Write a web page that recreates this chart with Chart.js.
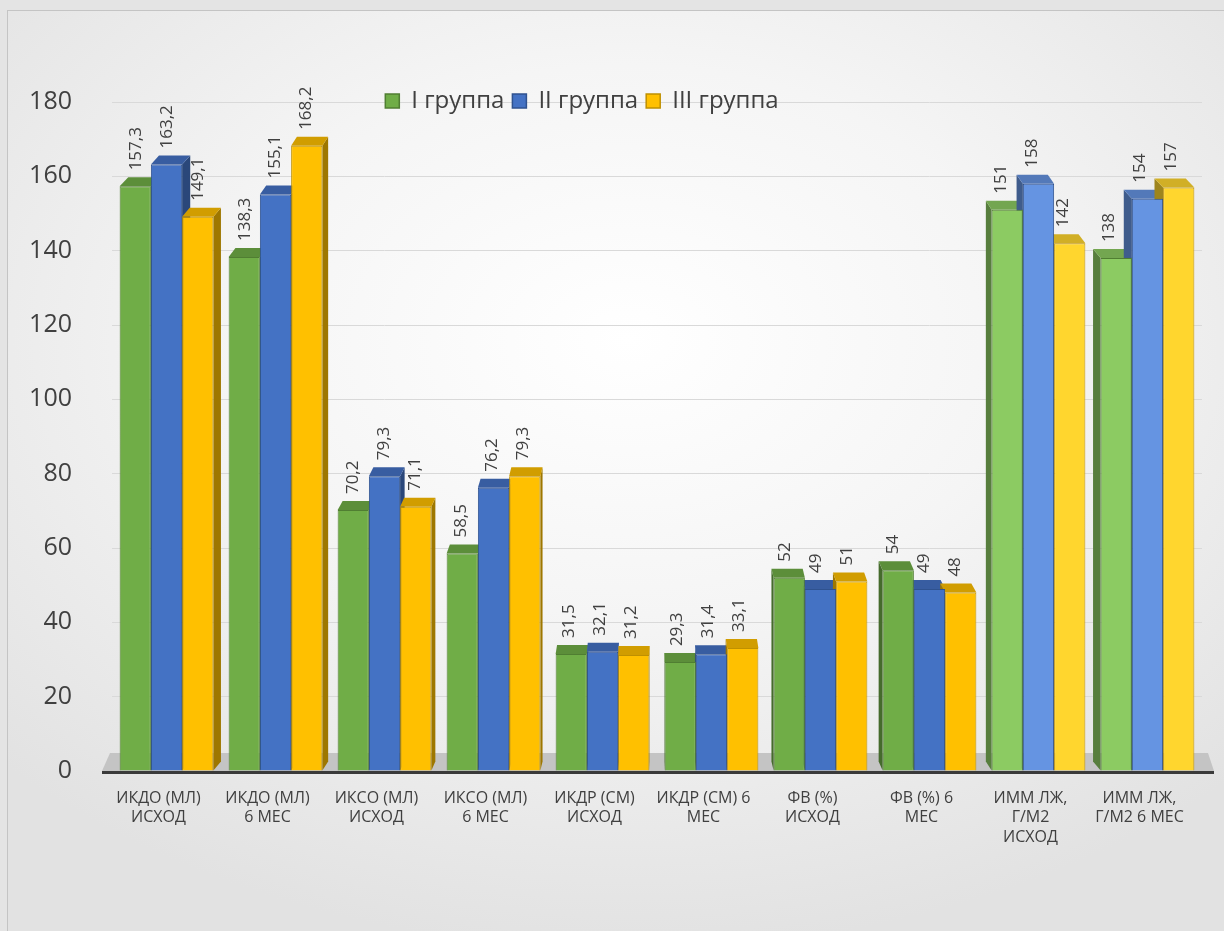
<!DOCTYPE html>
<html lang="ru">
<head>
<meta charset="utf-8">
<title>Группы</title>
<script src="https://cdn.jsdelivr.net/npm/chart.js@4.4.1/dist/chart.umd.min.js"></script>
<style>
  html, body { margin: 0; padding: 0; background: #e4e4e4; }
  #wrap { position: relative; width: 1224px; height: 931px; overflow: hidden; }
  #fundo {
    position: absolute; left: 7px; top: 10px; width: 1240px; height: 940px;
    border: 1px solid #c4c4c4;
    background: radial-gradient(ellipse 70% 65% at 50% 35%, #ffffff 0%, #f5f5f5 45%, #e2e2e2 100%);
  }
  canvas { position: absolute; left: 0; top: 0; }
</style>
</head>
<body>
<div id="wrap">
  <div id="fundo"></div>
  <canvas id="grafico" width="1224" height="931"></canvas>
</div>
<script>
// ================== DATA ==================
const categorias = [
  ['ИКДО (МЛ)', 'ИСХОД'],
  ['ИКДО (МЛ)', '6 МЕС'],
  ['ИКСО (МЛ)', 'ИСХОД'],
  ['ИКСО (МЛ)', '6 МЕС'],
  ['ИКДР (СМ)', 'ИСХОД'],
  ['ИКДР (СМ) 6', 'МЕС'],
  ['ФВ (%)', 'ИСХОД'],
  ['ФВ (%) 6', 'МЕС'],
  ['ИММ ЛЖ,', 'Г/М2', 'ИСХОД'],
  ['ИММ ЛЖ,', 'Г/М2 6 МЕС']
];
const grupo1 = [157.3, 138.3, 70.2, 58.5, 31.5, 29.3, 52, 54, 151, 138];
const grupo2 = [163.2, 155.1, 79.3, 76.2, 32.1, 31.4, 49, 49, 158, 154];
const grupo3 = [149.1, 168.2, 71.1, 79.3, 31.2, 33.1, 51, 48, 142, 157];
const nomesGrupos = ['I группа', 'II группа', 'III группа'];
const yMin = 0, yMax = 180, yPasso = 20;

// ================== CORES ==================
const cores       = ['#70AD47', '#4472C4', '#FFC000'];
const coresClaras = ['#8CCB62', '#6594E2', '#FFD62E']; // last two categories are lighter
const bordas      = ['#507E32', '#2F528F', '#BF9000'];

function corDe(ds, i) {
  return i >= 8 ? coresClaras[ds] : cores[ds];
}

// darken a hex colour by factor f
function sombra(hex, f) {
  const n = parseInt(hex.slice(1), 16);
  const r = Math.round(((n >> 16) & 255) * f);
  const g = Math.round(((n >> 8) & 255) * f);
  const b = Math.round((n & 255) * f);
  return `rgb(${r},${g},${b})`;
}

// ================== 3D LOOK ==================
const PROF = 9; // depth of the fake 3D faces

function desvio(chart, x) {
  const ca = chart.chartArea;
  const meio = (ca.left + ca.right) / 2;
  return { dx: PROF * (meio - x) / ((ca.right - ca.left) / 2), dy: -PROF };
}

const efeito3d = {
  id: 'efeito3d',
  beforeDatasetsDraw(chart) {
    const ctx = chart.ctx, ca = chart.chartArea;
    ctx.save();
    // grey floor behind the bars
    ctx.fillStyle = '#c4c4c4';
    ctx.beginPath();
    ctx.moveTo(ca.left - 10, ca.bottom);
    ctx.lineTo(ca.left - 2, ca.bottom - 2 * PROF);
    ctx.lineTo(ca.right + 6, ca.bottom - 2 * PROF);
    ctx.lineTo(ca.right + 12, ca.bottom);
    ctx.closePath();
    ctx.fill();

    // side and top faces of every bar
    chart.data.datasets.forEach((ds, d) => {
      chart.getDatasetMeta(d).data.forEach((bar, i) => {
        const { x, y, base, width } = bar.getProps(['x', 'y', 'base', 'width'], true);
        const cor = corDe(d, i);
        const esq = x - width / 2, dir = x + width / 2;
        const { dx, dy } = desvio(chart, x);
        const sx = dx > 0 ? dir : esq;
        ctx.fillStyle = sombra(cor, 0.62);
        ctx.beginPath();
        ctx.moveTo(sx, y);
        ctx.lineTo(sx + dx, y + dy);
        ctx.lineTo(sx + dx, base + dy);
        ctx.lineTo(sx, base);
        ctx.closePath();
        ctx.fill();
        ctx.fillStyle = sombra(cor, 0.82);
        ctx.beginPath();
        ctx.moveTo(esq, y);
        ctx.lineTo(esq + dx, y + dy);
        ctx.lineTo(dir + dx, y + dy);
        ctx.lineTo(dir, y);
        ctx.closePath();
        ctx.fill();
      });
    });
    ctx.restore();
  },
  afterDatasetsDraw(chart) {
    const ctx = chart.ctx, ca = chart.chartArea;
    ctx.save();
    // dark base line
    ctx.strokeStyle = '#3a3a3a';
    ctx.lineWidth = 3;
    ctx.beginPath();
    ctx.moveTo(ca.left - 10, ca.bottom + 1.5);
    ctx.lineTo(ca.right + 12, ca.bottom + 1.5);
    ctx.stroke();

    // rotated value labels above each bar
    ctx.font = '17px "Open Sans"';
    ctx.fillStyle = '#404040';
    ctx.textAlign = 'left';
    ctx.textBaseline = 'middle';
    chart.data.datasets.forEach((ds, d) => {
      chart.getDatasetMeta(d).data.forEach((bar, i) => {
        const { x, y } = bar.getProps(['x', 'y'], true);
        const { dx, dy } = desvio(chart, x);
        ctx.save();
        ctx.translate(x + dx / 2 - 3, y + dy - 7);
        ctx.rotate(-Math.PI / 2);
        ctx.fillText(String(ds.data[i]).replace('.', ','), 0, 0);
        ctx.restore();
      });
    });
    ctx.restore();
  }
};

// move the legend down/left so it sits inside the plot like the original
const posLegenda = {
  id: 'posLegenda',
  afterLayout(chart) {
    const L = chart.legend;
    const h = L.bottom - L.top;
    const desl = 582 - (L.left + L.right) / 2;
    L.top = 97 - h / 2 + 5;
    L.bottom = L.top + h;
    L.left += desl;
    L.right += desl;
    L.adjustHitBoxes();
  }
};

// ================== GRÁFICO ==================
const ctx = document.getElementById('grafico').getContext('2d');

const grafico = new Chart(ctx, {
  type: 'bar',
  data: {
    labels: categorias,
    datasets: [grupo1, grupo2, grupo3].map((dados, d) => ({
      label: nomesGrupos[d],
      data: dados,
      backgroundColor: c => corDe(d, c.dataIndex),
      borderColor: bordas[d],
      borderWidth: 1,
      categoryPercentage: 0.86,
      barPercentage: 1
    }))
  },
  options: {
    responsive: false,
    animation: false,
    devicePixelRatio: 1,
    layout: { padding: { top: 60, right: 22, left: 0, bottom: 0 } },
    plugins: {
      tooltip: { enabled: false },
      legend: {
        position: 'top',
        labels: {
          font: { family: 'Open Sans', size: 24 },
          color: '#404040',
          boxWidth: 14,
          boxHeight: 14,
          padding: 8,
          generateLabels: chart => nomesGrupos.map((n, d) => ({
            text: n,
            fillStyle: cores[d],
            strokeStyle: bordas[d],
            fontColor: '#404040',
            lineWidth: 1.5,
            datasetIndex: d
          }))
        }
      }
    },
    scales: {
      x: {
        grid: { display: false, drawTicks: false },
        border: { display: false },
        ticks: {
          font: { family: 'Open Sans', size: 16 },
          color: '#404040',
          padding: 18,
          labelOffset: -8,
          maxRotation: 0,
          autoSkip: false
        },
        afterFit: s => { s.height = 160; }
      },
      y: {
        min: yMin,
        max: yMax,
        grid: { color: '#d9d9d9', lineWidth: 1, drawTicks: false },
        border: { display: false },
        ticks: {
          stepSize: yPasso,
          font: { family: 'Open Sans', size: 25 },
          color: '#404040',
          padding: 40
        },
        afterFit: s => { s.width = 112; }
      }
    }
  },
  plugins: [efeito3d, posLegenda]
});
</script>
</body>
</html>
